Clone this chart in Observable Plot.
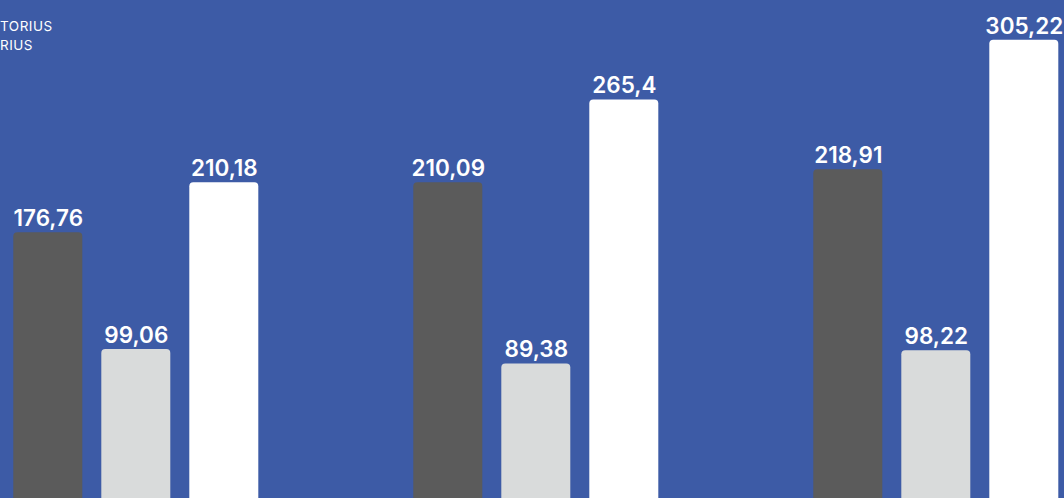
<!DOCTYPE html>
<html>
<head>
<meta charset="utf-8">
<script src="https://cdn.jsdelivr.net/npm/d3@7"></script>
<script src="https://cdn.jsdelivr.net/npm/@observablehq/plot@0.6"></script>
<style>
  html, body { margin: 0; padding: 0; background: #3d5ba6; }
  #wrap { position: relative; width: 1064px; height: 498px; overflow: hidden; background: #3d5ba6; }
  #legend { position: absolute; left: 0; top: 17px; font-family: Inter, "Open Sans", sans-serif; font-size: 13.5px; color: #ffffff; line-height: 19px; letter-spacing: 0.5px; }
  #legend div { white-space: nowrap; }
</style>
</head>
<body>
<div id="wrap">
  <div id="chart"></div>
  <div id="legend"></div>
</div>
<script>
// Data
const groups = ["Grupo 1", "Grupo 2", "Grupo 3"];
const series = ["Serie A", "Serie B", "Serie C"];
const seriesA = [176.76, 210.09, 218.91];
const seriesB = [99.06, 89.38, 98.22];
const seriesC = [210.18, 265.4, 305.22];
const legendLabels = ["TORIUS", "RIUS"];
const colors = ["#5b5b5b", "#d9dbdb", "#ffffff"];

const seriesValues = [seriesA, seriesB, seriesC];
const rows = [];
groups.forEach((g, gi) => {
  series.forEach((s, si) => {
    rows.push({group: g, series: s, value: seriesValues[si][gi]});
  });
});

const fmt = v => String(v).replace(".", ",");

const chart = Plot.plot({
  width: 1064,
  height: 498,
  marginLeft: 11.7,
  marginRight: 3.8,
  marginTop: 0,
  marginBottom: 0,
  style: {background: "transparent", overflow: "hidden"},
  facet: {data: rows, x: "group"},
  fx: {domain: groups, paddingInner: 0.384, paddingOuter: 0, axis: null, label: null},
  x: {domain: series, paddingInner: 0.2165, paddingOuter: 0, axis: null, label: null},
  y: {domain: [0, 331.67], range: [497.5, 0], axis: null, label: null},
  color: {domain: series, range: colors},
  marks: [
    Plot.barY(rows, {x: "series", y: "value", fill: "series", rx: 4, insetBottom: -10}),
    Plot.text(rows, {
      x: "series", y: "value", text: d => fmt(d.value),
      dy: -6.5, lineAnchor: "bottom", fill: "#ffffff",
      fontSize: 22.5, fontWeight: 600, fontFamily: "Inter"
    })
  ]
});
document.getElementById("chart").appendChild(chart);

const legend = document.getElementById("legend");
legendLabels.forEach(l => {
  const d = document.createElement("div");
  d.textContent = l;
  legend.appendChild(d);
});
</script>
</body>
</html>
